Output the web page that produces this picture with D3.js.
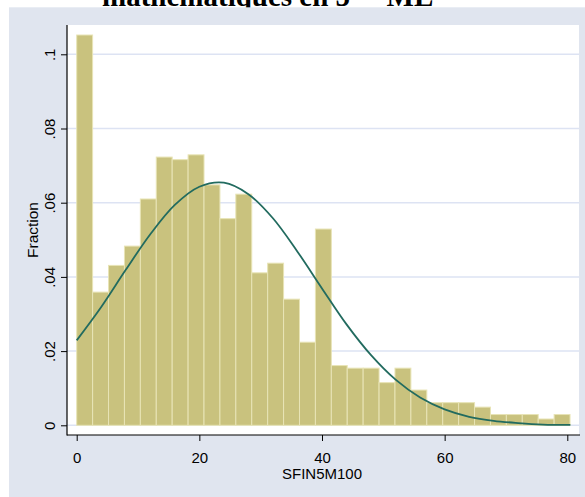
<!DOCTYPE html>
<html>
<head>
<meta charset="utf-8">
<script src="https://cdn.jsdelivr.net/npm/d3@7"></script>
<style>
  html, body { margin: 0; padding: 0; background: #ffffff; }
  svg { display: block; }
</style>
</head>
<body>
<svg id="chart" width="585" height="497"></svg>
<script>
// ---------------- data ----------------
const titleText = "mathématiques en 5ᵉ – ML";
const xLabel = "SFIN5M100";
const yLabel = "Fraction";
const binWidth = 2.595;            // width of each histogram bin (SFIN5M100 units)
const fractions = [
  0.1052, 0.0359, 0.0431, 0.0483, 0.0610, 0.0723, 0.0716, 0.0729,
  0.0648, 0.0557, 0.0623, 0.0411, 0.0437, 0.0340, 0.0224, 0.0529,
  0.0161, 0.0154, 0.0154, 0.0115, 0.0154, 0.0095, 0.0061, 0.0061,
  0.0061, 0.0049, 0.0029, 0.0029, 0.0029, 0.0017, 0.0029
];
// overlaid normal curve
const curveX = [0, 4, 8, 12, 16, 20, 24, 28, 32, 36, 40, 44, 48, 52, 56, 60, 64, 68, 72, 76, 80.5];
const curveY = [0.0229, 0.0319, 0.0419, 0.0515, 0.0594, 0.0643, 0.0654, 0.0623, 0.0558, 0.0468,
                0.0369, 0.0272, 0.0189, 0.0123, 0.0075, 0.0043, 0.0023, 0.0012, 0.0006, 0.0002, 0.0001];
const xTicks = [0, 20, 40, 60, 80];
const xTickLabels = ["0", "20", "40", "60", "80"];
const yTicks = [0, 0.02, 0.04, 0.06, 0.08, 0.1];
const yTickLabels = ["0", ".02", ".04", ".06", ".08", ".1"];

// ---------------- layout ----------------
const plot = { left: 67, right: 579, top: 25, bottom: 435 };
const svg = d3.select("#chart");

// title (drawn first; the grey panel covers all but its lower edge)
svg.append("text")
  .attr("x", 102).attr("y", 5.5)
  .attr("font-family", "Liberation Serif, Times New Roman, serif")
  .attr("font-weight", "bold")
  .attr("font-size", 29)
  .attr("fill", "#000")
  .text(titleText);

// grey graph region
svg.append("rect")
  .attr("x", 9).attr("y", 7.3).attr("width", 585 - 9).attr("height", 497 - 7.3)
  .attr("fill", "#e0e5ef");

// white plot region
svg.append("rect")
  .attr("x", plot.left).attr("y", plot.top)
  .attr("width", plot.right - plot.left).attr("height", plot.bottom - plot.top)
  .attr("fill", "#ffffff");

const x = d3.scaleLinear().domain([0, 80]).range([76.7, 567.3]);
const y = d3.scaleLinear().domain([0, 0.1]).range([425.3, 54.3]);

// gridlines
svg.append("g").selectAll("line").data(yTicks).join("line")
  .attr("x1", plot.left).attr("x2", plot.right)
  .attr("y1", d => y(d)).attr("y2", d => y(d))
  .attr("stroke", "#dde3f3").attr("stroke-width", 1.5);

// bars
svg.append("g").selectAll("rect").data(fractions).join("rect")
  .attr("x", (d, i) => x(i * binWidth))
  .attr("width", (d, i) => x((i + 1) * binWidth) - x(i * binWidth))
  .attr("y", d => y(d))
  .attr("height", d => y(0) - y(d))
  .attr("fill", "#c9c27e")
  .attr("stroke", "#e8e4b6")
  .attr("stroke-width", 1);

// normal curve
const line = d3.line()
  .x(d => x(d[0])).y(d => y(d[1]))
  .curve(d3.curveCatmullRom);
svg.append("path")
  .datum(curveX.map((v, i) => [v, curveY[i]]))
  .attr("d", line)
  .attr("fill", "none")
  .attr("stroke", "#226b5f")
  .attr("stroke-width", 1.8);

// axes
const fontSans = "Liberation Sans, Arial, Helvetica, sans-serif";

const yAxis = svg.append("g")
  .attr("transform", `translate(${plot.left},0)`)
  .call(d3.axisLeft(y).tickValues(yTicks).tickFormat((d, i) => yTickLabels[i]).tickSize(6));
yAxis.select(".domain").remove();
yAxis.selectAll(".tick line").attr("stroke", "#000").attr("stroke-width", 1);
yAxis.selectAll(".tick text")
  .attr("x", null).attr("dy", null)
  .attr("transform", "translate(-12,0) rotate(-90)")
  .attr("text-anchor", "middle")
  .attr("font-family", fontSans).attr("font-size", 15).attr("fill", "#000");

const xAxis = svg.append("g")
  .attr("transform", `translate(0,${plot.bottom})`)
  .call(d3.axisBottom(x).tickValues(xTicks).tickFormat((d, i) => xTickLabels[i]).tickSize(6));
xAxis.select(".domain").remove();
xAxis.selectAll(".tick line").attr("stroke", "#000").attr("stroke-width", 1);
xAxis.selectAll(".tick text")
  .attr("y", 28).attr("dy", null)
  .attr("font-family", fontSans).attr("font-size", 15).attr("fill", "#000");

// axis lines
svg.append("line")
  .attr("x1", plot.left).attr("x2", plot.left)
  .attr("y1", plot.top).attr("y2", plot.bottom + 0.5)
  .attr("stroke", "#000").attr("stroke-width", 1.2);
svg.append("line")
  .attr("x1", plot.left).attr("x2", plot.right + 1)
  .attr("y1", plot.bottom).attr("y2", plot.bottom)
  .attr("stroke", "#000").attr("stroke-width", 1.2);

// axis titles
svg.append("text")
  .attr("x", (x(0) + x(80)) / 2).attr("y", 479)
  .attr("text-anchor", "middle")
  .attr("font-family", fontSans).attr("font-size", 15).attr("fill", "#000")
  .text(xLabel);
svg.append("text")
  .attr("transform", `translate(38,${(plot.top + plot.bottom) / 2}) rotate(-90)`)
  .attr("text-anchor", "middle")
  .attr("font-family", fontSans).attr("font-size", 15.5).attr("fill", "#000")
  .text(yLabel);
</script>
</body>
</html>
